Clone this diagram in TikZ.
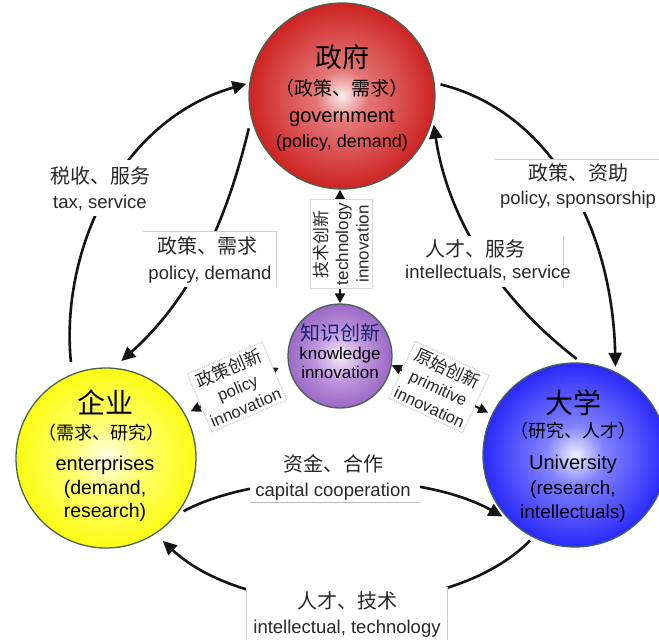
\documentclass[tikz,border=0pt]{standalone}
\usepackage{fontspec}
\setmainfont{Liberation Sans}
\newfontfamily\cjk{Noto Sans CJK SC}
\usetikzlibrary{arrows.meta}

% palette
\definecolor{ringcol}{RGB}{70,100,80}
\definecolor{flowink}{RGB}{20,20,20}
\definecolor{ink}{RGB}{40,40,40}
\definecolor{rimcol}{RGB}{205,205,205}
\definecolor{navy}{RGB}{25,35,110}
% ball shadings: light centre fading to a saturated rim
\definecolor{govA}{RGB}{250,238,238}\definecolor{govB}{RGB}{228,120,120}
\definecolor{govC}{RGB}{204,30,30}\definecolor{govD}{RGB}{185,12,12}
\definecolor{entA}{RGB}{255,255,238}\definecolor{entB}{RGB}{255,255,120}
\definecolor{entC}{RGB}{252,252,0}\definecolor{entD}{RGB}{235,235,0}
\definecolor{uniA}{RGB}{240,240,255}\definecolor{uniB}{RGB}{130,130,255}
\definecolor{uniC}{RGB}{25,25,250}\definecolor{uniD}{RGB}{10,10,215}
\definecolor{knwA}{RGB}{246,238,250}\definecolor{knwB}{RGB}{190,150,222}
\definecolor{knwC}{RGB}{132,72,182}\definecolor{knwD}{RGB}{110,50,160}
\pgfdeclareradialshading{govball}{\pgfpoint{0bp}{0bp}}{color(0bp)=(govA); color(7bp)=(govB); color(26bp)=(govC); color(50bp)=(govD)}
\pgfdeclareradialshading{entball}{\pgfpoint{0bp}{0bp}}{color(0bp)=(entA); color(9bp)=(entB); color(28bp)=(entC); color(50bp)=(entD)}
\pgfdeclareradialshading{uniball}{\pgfpoint{0bp}{0bp}}{color(0bp)=(uniA); color(8bp)=(uniB); color(28bp)=(uniC); color(50bp)=(uniD)}
\pgfdeclareradialshading{knwball}{\pgfpoint{0bp}{0bp}}{color(0bp)=(knwA); color(12bp)=(knwB); color(34bp)=(knwC); color(50bp)=(knwD)}

\begin{document}
\begin{tikzpicture}[x=1pt,y=-1pt,
  ball/.style={circle, draw=ringcol, line width=1.3pt, inner sep=0pt},
  flow/.style={draw=flowink, line width=2.6pt, -{Triangle[length=14pt,width=13pt]}},
  twoway/.style={draw=flowink, line width=2.2pt,
    {Triangle[length=10pt,width=10pt]}-{Triangle[length=10pt,width=10pt]}},
  boxfill/.style={fill=white, draw=none, inner sep=0pt},
  rim/.style={draw=rimcol, line width=1.2pt},
  zhT/.style={font=\cjk\fontsize{#1}{#1}\selectfont, anchor=base, inner sep=0pt},
  enT/.style={font=\fontsize{#1}{#1}\selectfont, anchor=base, inner sep=0pt},
  tiltbox/.style={fill=white, draw=gray!45, densely dotted, line width=1pt,
    align=center, inner sep=3pt, text=ink, font=\fontsize{16.5}{21}\selectfont},
]
\useasboundingbox (0,0) rectangle (659,640);
\fill[white] (0,0) rectangle (659,640);

% the four actors
\node[ball, minimum size=186pt, shading=govball] (R) at (342,96) {};
\node[ball, minimum size=180pt, shading=entball] (Y) at (106,458) {};
\node[ball, minimum size=184pt, shading=uniball] (B) at (575,455) {};
\node[ball, minimum size=104pt, shading=knwball] (P) at (340,356) {};

% government
\node[zhT=27] (R1) at (342,67) {政府};
\node[zhT=19] (R2) at (342,95) {（政策、需求）};
\node[enT=20] (R3) at (342,122) {government};
\node[enT=18] (R4) at (342,147) {(policy, demand)};
% enterprises
\node[zhT=28] (Y1) at (105,413) {企业};
\node[zhT=18] (Y2) at (101,439) {（需求、研究）};
\node[enT=20] (Y3) at (105,470) {enterprises};
\node[enT=19.5] (Y4) at (105,494) {(demand,};
\node[enT=19.5] (Y5) at (105,517) {research)};
% university
\node[zhT=28] (B1) at (573,413) {大学};
\node[zhT=18] (B2) at (573,437) {（研究、人才）};
\node[enT=20] (B3) at (573,469) {University};
\node[enT=19] (B4) at (573,494) {(research,};
\node[enT=19] (B5) at (573,518) {intellectuals)};
% knowledge innovation
\node[zhT=20, text=navy] (P1) at (340,340) {知识创新};
\node[enT=17] (P2) at (340,359) {knowledge};
\node[enT=17] (P3) at (340,378) {innovation};

% flows between the actors
\draw[flow, shorten <=12pt, shorten >=3pt] (Y.112) .. controls (60,250) and (120,120) .. (R.172);
\draw[flow, shorten <=10pt, shorten >=10pt] (R.194) .. controls (228,215) and (195,295) .. (Y.85);
\draw[flow, shorten <=6pt, shorten >=5pt] (R.8) .. controls (545,110) and (612,220) .. (B.64);
\draw[flow, shorten <=6pt, shorten >=6pt] (B.86) .. controls (500,300) and (448,220) .. (R.346);
\draw[flow, shorten <=8pt, shorten >=8pt] (Y.321) .. controls (260,470) and (420,470) .. (B.225);
\draw[flow, shorten <=4pt, shorten >=10pt] (B.243) .. controls (450,622) and (250,622) .. (Y.303);
\draw[twoway] (R.south -| P.north) -- (P.north);
\draw[twoway, shorten <=10pt, shorten >=6pt] (P.188) -- (Y.29);
\draw[twoway, shorten >=4pt] (P.350) -- (B.154);

% label panels
\node[boxfill, minimum width=115pt, minimum height=56pt] (taxBox) at (100,188) {};
\node[boxfill, minimum width=133pt, minimum height=55pt] (pdBox) at (209.5,259.5) {};
\node[boxfill, minimum width=170pt, minimum height=52pt] (psBox) at (580,186) {};
\node[boxfill, minimum width=153pt, minimum height=51pt] (isBox) at (486.5,261.5) {};
\node[boxfill, minimum width=170pt, minimum height=52pt] (ccBox) at (335,476) {};
\node[boxfill, minimum width=200pt, minimum height=58pt] (itBox) at (347,616) {};
\draw[rim] (pdBox.north west) -- (pdBox.north east) -- (pdBox.south east);
\draw[rim] (psBox.north west) -- (psBox.north east);
\draw[rim] (isBox.north east) -- (isBox.south east);
\draw[rim, draw=gray!55] (ccBox.south west) -- (ccBox.south east);
\draw[rim] (itBox.north west) -- (itBox.south west);
\draw[rim] (itBox.north east) -- (itBox.south east);

\node[zhT=20, text=ink] (taxZh) at (100,183) {税收、服务};
\node[enT=18.5, text=ink] (taxEn) at (100,208) {tax, service};
\node[zhT=20, text=ink] (pdZh) at (207,253) {政策、需求};
\node[enT=18.5, text=ink] (pdEn) at (210,279) {policy, demand};
\node[zhT=20, text=ink] (psZh) at (578,180) {政策、资助};
\node[enT=18.5, text=ink] (psEn) at (578,204) {policy, sponsorship};
\node[zhT=20, text=ink] (isZh) at (475,256) {人才、服务};
\node[enT=18.5, text=ink] (isEn) at (488,278) {intellectuals, service};
\node[zhT=20, text=ink] (ccZh) at (333,471) {资金、合作};
\node[enT=18.5, text=ink] (ccEn) at (333,496) {capital cooperation};
\node[zhT=20, text=ink] (itZh) at (347,608) {人才、技术};
\node[enT=18.5, text=ink] (itEn) at (347,633) {intellectual, technology};

% innovation channels
\node[tiltbox, draw=gray!30, solid, rotate=90, minimum width=85pt, minimum height=62pt,
  font=\fontsize{17}{20.5}\selectfont] (techL) at (341,244)
  {{\cjk 技术创新}\\technology\\innovation};
\node[tiltbox, rotate=23] (polL) at (237,387)
  {{\cjk\fontsize{17.5}{21}\selectfont 政策创新}\\policy\\innovation};
\node[tiltbox, rotate=-25] (priL) at (439,387)
  {{\cjk\fontsize{17.5}{21}\selectfont 原始创新}\\primitive\\innovation};
\end{tikzpicture}
\end{document}
